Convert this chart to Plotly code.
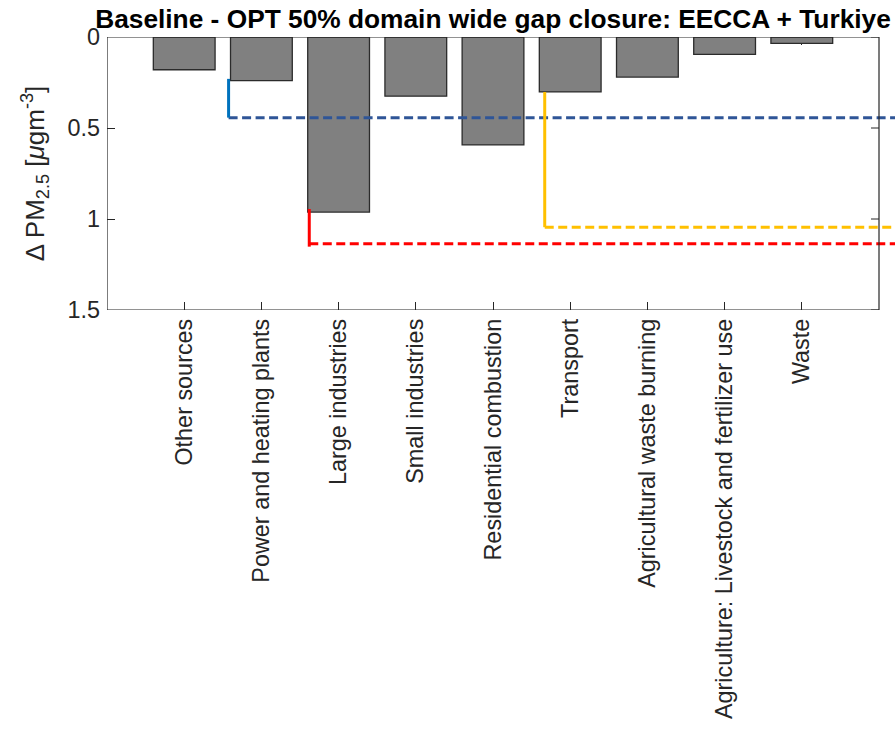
import plotly.graph_objects as go

# ---- data ----
categories = ["Other sources", "Power and heating plants", "Large industries",
              "Small industries", "Residential combustion", "Transport",
              "Agricultural waste burning", "Agriculture: Livestock and fertilizer use",
              "Waste"]
delta_pm = [0.18, 0.24, 0.962, 0.325, 0.593, 0.302, 0.22, 0.095, 0.035]

# connector lines: x of vertical, vertical start, vertical end, dashed level
conn_x = [1.575, 2.62, 5.67]
conn_top = [0.23, 0.945, 0.302]
conn_bottom = [0.443, 1.152, 1.045]
conn_level = [0.443, 1.136, 1.045]
conn_solid_colors = ["#0072BD", "#FF0000", "#FFC000"]
conn_dash_colors = ["#2F5597", "#FF0000", "#FFC000"]

ytick_vals = [0, 0.5, 1, 1.5]
ytick_text = ["0", "0.5", "1", "1.5"]

# ---- layout geometry ----
W, H = 895, 730
L, R, T, B = 107, 0, 37, 420
box_right_px = 879
n = len(categories)
xmax_box = n + 1
px_per_unit = (box_right_px - L) / xmax_box
xmax_range = (W - L - R) / px_per_unit
ymax = 1.5

FONT = "Liberation Sans, Arial, Helvetica, sans-serif"
AX = "#262626"

fig = go.Figure()
xs = list(range(1, n + 1))
fig.add_trace(go.Bar(x=xs, y=delta_pm, width=0.8,
                     marker=dict(color="#808080", line=dict(color="#2b2b2b", width=1.3)),
                     showlegend=False, hoverinfo="skip"))

for cx, c0, c1, lv, cs, cd in zip(conn_x, conn_top, conn_bottom, conn_level,
                                  conn_solid_colors, conn_dash_colors):
    fig.add_trace(go.Scatter(x=[cx, xmax_range + 1], y=[lv, lv], mode="lines",
                             line=dict(color=cd, width=3, dash="9px,4.5px"),
                             showlegend=False, hoverinfo="skip"))
    fig.add_trace(go.Scatter(x=[cx, cx], y=[c0, c1], mode="lines",
                             line=dict(color=cs, width=3),
                             showlegend=False, hoverinfo="skip"))

# right-side box ticks (MATLAB box style)
tick_len_units = 8 / px_per_unit
rx, ry = [], []
for t in ytick_vals:
    rx += [xmax_box, xmax_box - tick_len_units, None]
    ry += [t, t, None]
fig.add_trace(go.Scatter(x=rx, y=ry, mode="lines", line=dict(color=AX, width=1),
                         showlegend=False, hoverinfo="skip"))

# axes box
fig.add_shape(type="rect", xref="x", yref="y", x0=0, x1=xmax_box, y0=0, y1=ymax,
              line=dict(color=AX, width=1.2), fillcolor="rgba(0,0,0,0)", layer="above")

fig.update_layout(
    template="none",
    width=W, height=H,
    margin=dict(l=L, r=R, t=T, b=B, pad=0, autoexpand=False),
    paper_bgcolor="white", plot_bgcolor="white",
    hovermode=False,
    font=dict(family=FONT, size=23, color=AX),
    title=dict(text="<b>Baseline - OPT 50% domain wide gap closure: EECCA + Turkiye</b>",
               font=dict(family=FONT, size=26.3, color="black"),
               xref="container", yref="container", x=493 / W, xanchor="center",
               y=1 - 19 / H, yanchor="middle"),
    xaxis=dict(range=[0, xmax_range], tickmode="array", tickvals=xs, ticktext=categories,
               tickangle=-90, ticks="inside", ticklen=8, tickcolor=AX, tickwidth=1,
               mirror="ticks", showline=False, showgrid=False, zeroline=False,
               automargin=False, layer="below traces",
               tickfont=dict(size=23.4, color=AX), ticklabelstandoff=3),
    yaxis=dict(range=[ymax, 0], tickmode="array", tickvals=ytick_vals, ticktext=ytick_text,
               ticks="inside", ticklen=8, tickcolor=AX, tickwidth=1,
               showline=False, showgrid=False, zeroline=False, automargin=False,
               layer="below traces", tickfont=dict(size=23.4, color=AX),
               ticklabelstandoff=6,
               title=dict(text="Δ PM<sub>2.5</sub> [<i>μ</i>gm<sup>-3</sup>]",
                          font=dict(size=26, color=AX), standoff=15)),
)

fig.write_html("out.html", config={"displayModeBar": False, "staticPlot": True},
               post_script="document.body.style.margin='0';document.body.style.padding='0';")
